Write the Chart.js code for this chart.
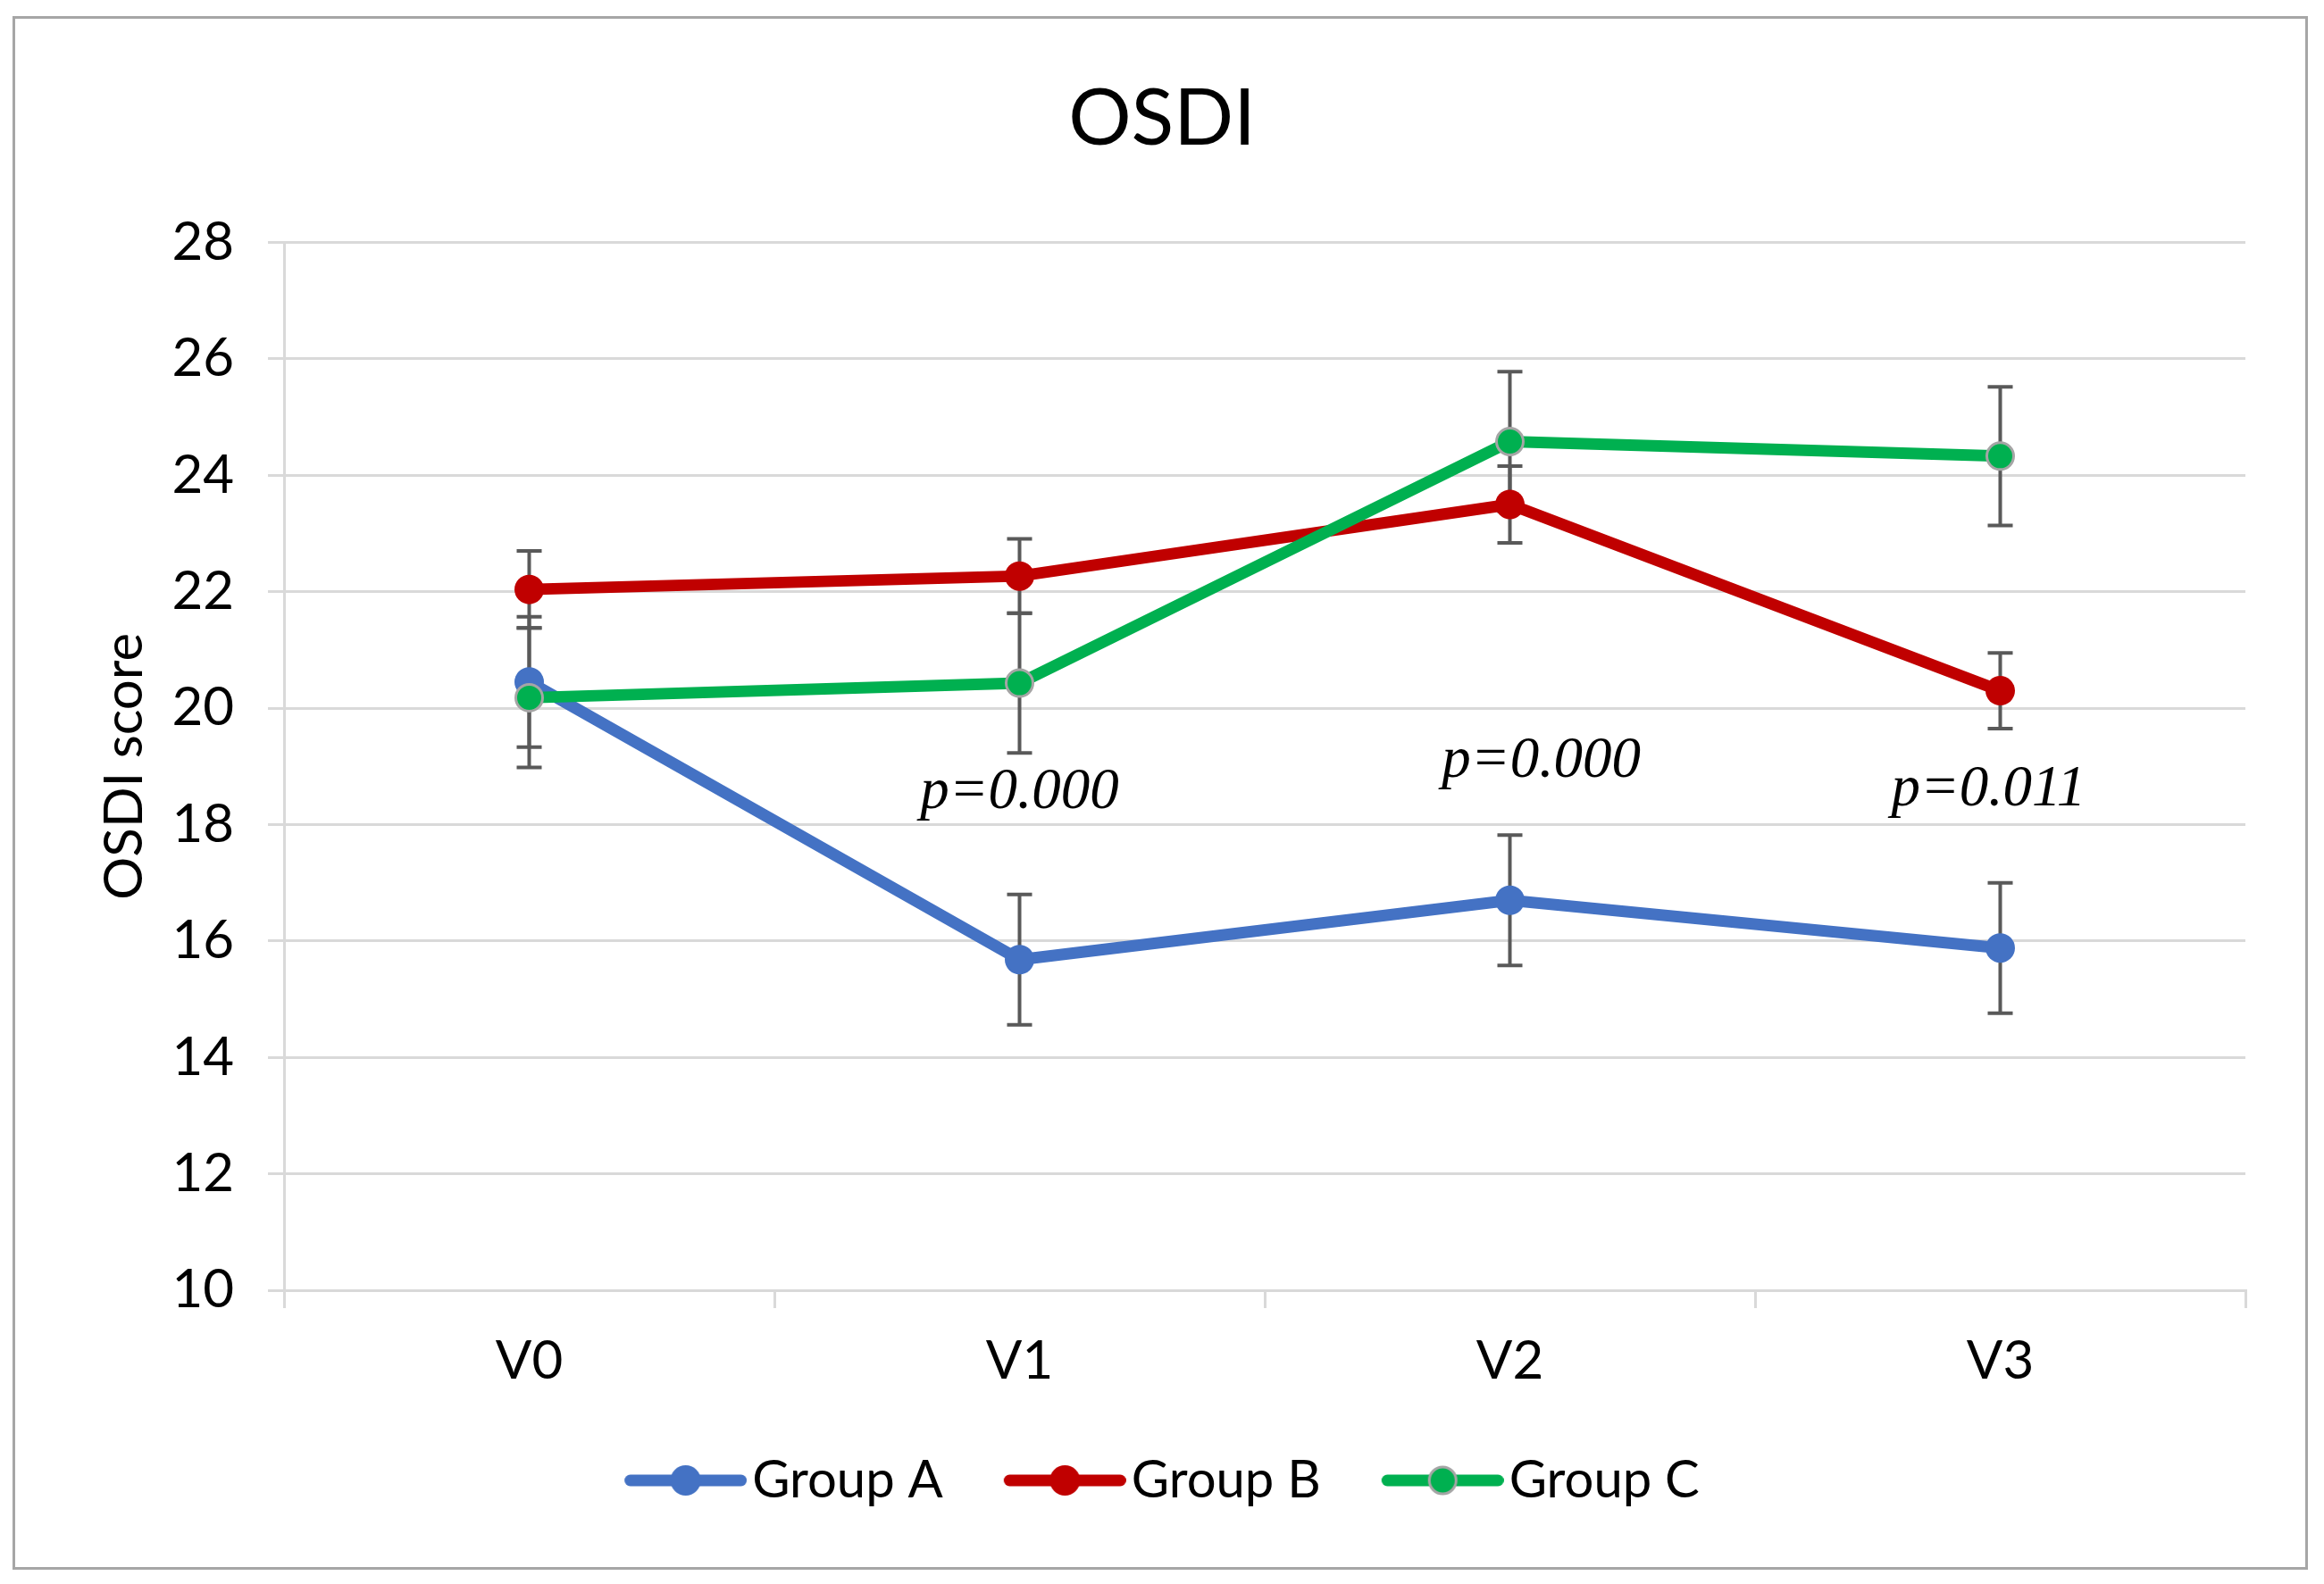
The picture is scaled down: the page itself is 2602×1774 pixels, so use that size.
<!DOCTYPE html>
<html>
<head>
<meta charset="utf-8">
<title>OSDI</title>
<script src="https://cdn.jsdelivr.net/npm/chart.js@4/dist/chart.umd.min.js"></script>
<style>
  html, body { margin: 0; padding: 0; background: #fff; }
  canvas { display: block; }
</style>
</head>
<body>
<canvas id="osdiChart" width="2602" height="1774"></canvas>
<script>
// values
const visits = ['V0', 'V1', 'V2', 'V3']
const seriesNames = ['Group A', 'Group B', 'Group C']

const groupA = [20.45, 15.68, 16.7, 15.88]
const groupB = [22.04, 22.27, 23.5, 20.3]
const groupC = [20.18, 20.43, 24.58, 24.33]

const errA = [1.12, 1.12, 1.12, 1.12]
const errB = [0.66, 0.64, 0.66, 0.65]
const errC = [1.2, 1.2, 1.2, 1.19]

const yTicks = [10, 12, 14, 16, 18, 20, 22, 24, 26, 28]

const pLabels = ['p=0.000', 'p=0.000', 'p=0.011']
const pAtX = [1, 2.064, 2.976]
const pAtY = [18.28, 18.82, 18.33]

const colors = ['#4472C4', '#C00000', '#00B050']
const markerEdge = '#A5A5A5'
const gridColor = '#D9D9D9'
const font = 'Lato'

// legend swatch: line with a dot, like the office legend
function legendSwatch(color, edge) {
    const c = document.createElement('canvas')
    c.width = 160
    c.height = 40
    const g = c.getContext('2d')
    g.strokeStyle = color
    g.lineWidth = 13
    g.lineCap = 'round'
    g.beginPath()
    g.moveTo(23 + 6.5, 20)
    g.lineTo(160 - 6.5, 20)
    g.stroke()
    g.beginPath()
    g.arc(91.5, 20, edge ? 15 : 17, 0, Math.PI * 2)
    g.fillStyle = color
    g.fill()
    if (edge) {
        g.lineWidth = 3
        g.strokeStyle = edge
        g.stroke()
    }
    return c
}

const swatches = [
    legendSwatch(colors[0]),
    legendSwatch(colors[1]),
    legendSwatch(colors[2], markerEdge)
]

const frame = {
    id: 'frame',
    beforeDraw(chart) {
        const { ctx, width, height } = chart
        ctx.save()
        ctx.fillStyle = '#fff'
        ctx.fillRect(0, 0, width, height)
        ctx.strokeStyle = '#A6A6A6'
        ctx.lineWidth = 3
        ctx.strokeRect(15.5, 19.5, 2567, 1737)
        ctx.restore()
    }
}

const errorBars = {
    id: 'errorBars',
    beforeDatasetsDraw(chart) {
        const { ctx, scales: { x, y } } = chart
        ctx.save()
        ctx.strokeStyle = '#595959'
        ctx.lineWidth = 4
        chart.data.datasets.forEach(ds => {
            ds.data.forEach((v, i) => {
                const e = ds.errors[i]
                const px = x.getPixelForValue(i)
                const top = y.getPixelForValue(v + e)
                const bot = y.getPixelForValue(v - e)
                ctx.beginPath()
                ctx.moveTo(px, top)
                ctx.lineTo(px, bot)
                ctx.moveTo(px - 14, top)
                ctx.lineTo(px + 14, top)
                ctx.moveTo(px - 14, bot)
                ctx.lineTo(px + 14, bot)
                ctx.stroke()
            })
        })
        ctx.restore()
    }
}

const pValues = {
    id: 'pValues',
    afterDatasetsDraw(chart) {
        const { ctx, scales: { x, y } } = chart
        ctx.save()
        ctx.font = 'italic 65px "Liberation Serif", "DejaVu Serif", serif'
        ctx.fillStyle = '#000'
        ctx.textAlign = 'center'
        ctx.textBaseline = 'alphabetic'
        pLabels.forEach((t, i) => {
            ctx.fillText(t, x.getPixelForValue(pAtX[i]), y.getPixelForValue(pAtY[i]))
        })
        ctx.restore()
    }
}

function makeSet(i, data, errors) {
    const edged = i === 2
    return {
        label: seriesNames[i],
        data,
        errors,
        borderColor: colors[i],
        backgroundColor: colors[i],
        borderWidth: 13,
        tension: 0,
        pointRadius: edged ? 15 : 16.5,
        pointHoverRadius: edged ? 15 : 16.5,
        pointBackgroundColor: colors[i],
        pointBorderColor: edged ? markerEdge : colors[i],
        pointBorderWidth: edged ? 3 : 0,
        order: 3 - i
    }
}

new Chart(document.getElementById('osdiChart').getContext('2d'), {
    type: 'line',
    data: {
        labels: visits,
        datasets: [
            makeSet(0, groupA, errA),
            makeSet(1, groupB, errB),
            makeSet(2, groupC, errC)
        ]
    },
    options: {
        responsive: false,
        devicePixelRatio: 1,
        animation: false,
        layout: { padding: { left: 0, right: 0, top: 0, bottom: 77 } },
        plugins: {
            tooltip: { enabled: false },
            title: {
                display: true,
                text: 'OSDI',
                color: '#000',
                font: { family: font, size: 88, weight: 'normal', lineHeight: 1.2 },
                padding: { top: 81, bottom: 85 }
            },
            legend: {
                position: 'bottom',
                align: 'center',
                labels: {
                    usePointStyle: true,
                    pointStyleWidth: 114,
                    padding: 68,
                    color: '#000',
                    font: { family: font, size: 58 },
                    generateLabels: chart => chart.data.datasets.map((ds, i) => ({
                        text: ds.label,
                        pointStyle: swatches[i],
                        fillStyle: ds.borderColor,
                        strokeStyle: ds.borderColor,
                        lineWidth: 0,
                        hidden: false,
                        datasetIndex: i
                    }))
                }
            }
        },
        scales: {
            x: {
                type: 'category',
                offset: true,
                grid: {
                    offset: true,
                    drawOnChartArea: false,
                    drawTicks: true,
                    tickLength: 20,
                    color: gridColor,
                    lineWidth: 3
                },
                border: { display: true, color: gridColor, width: 3 },
                ticks: {
                    color: '#000',
                    padding: 24,
                    font: { family: font, size: 60 }
                },
                afterFit: s => { s.height = 116 }
            },
            y: {
                position: 'left',
                min: 10,
                max: 28,
                afterBuildTicks: s => { s.ticks = yTicks.map(v => ({ value: v })) },
                grid: {
                    color: gridColor,
                    lineWidth: 3,
                    drawTicks: true,
                    tickLength: 18
                },
                border: { display: true, color: gridColor, width: 3 },
                ticks: {
                    color: '#000',
                    padding: 38,
                    font: { family: font, size: 60 }
                },
                title: {
                    display: true,
                    text: 'OSDI score',
                    color: '#000',
                    font: { family: font, size: 60, lineHeight: 1.2 },
                    padding: { top: 103.5, bottom: 0 }
                },
                afterFit: s => { s.width = 318 }
            },
            spacer: {
                type: 'linear',
                position: 'right',
                display: true,
                grid: { display: false },
                border: { display: false },
                ticks: { display: false },
                afterFit: s => { s.width = 88 }
            }
        }
    },
    plugins: [frame, errorBars, pValues]
})
</script>
</body>
</html>
